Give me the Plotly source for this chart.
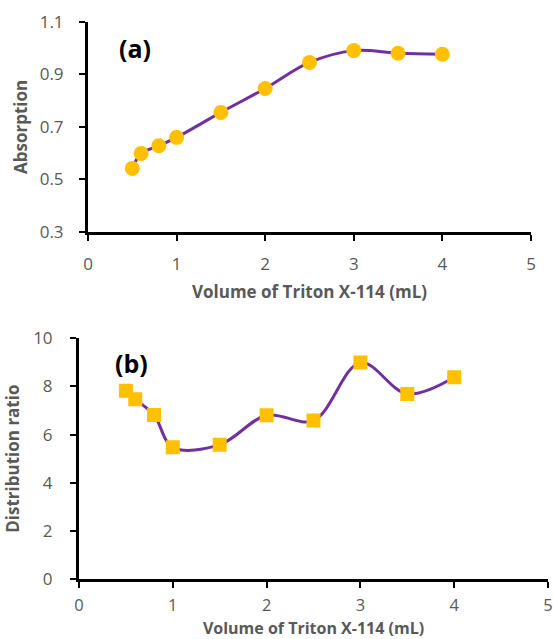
import plotly.graph_objects as go

# Volume of Triton X-114 (mL)
volume = [0.5, 0.6, 0.8, 1.0, 1.5, 2.0, 2.5, 3.0, 3.5, 4.0]
# (a) absorption signal
absorption = [0.542, 0.599, 0.628, 0.660, 0.755, 0.846, 0.945, 0.990, 0.980, 0.976]
# (b) distribution ratio
distribution = [7.82, 7.47, 6.81, 5.47, 5.58, 6.80, 6.58, 8.99, 7.69, 8.38]

x_ticks = [0, 1, 2, 3, 4, 5]
abs_ticks = [0.3, 0.5, 0.7, 0.9, 1.1]
dist_ticks = [0, 2, 4, 6, 8, 10]

W, H = 553, 639
PURPLE = "#7030A0"
GOLD = "#FFC000"
GREY = "#595959"
FONT = "Open Sans"

fig = go.Figure()

fig.add_trace(go.Scatter(
    x=volume, y=absorption, mode="lines+markers",
    line=dict(color=PURPLE, width=3, shape="spline", smoothing=1),
    marker=dict(symbol="circle", size=15, color=GOLD),
    xaxis="x", yaxis="y", showlegend=False,
))
fig.add_trace(go.Scatter(
    x=volume, y=distribution, mode="lines+markers",
    line=dict(color=PURPLE, width=3, shape="spline", smoothing=1),
    marker=dict(symbol="square", size=14, color=GOLD),
    xaxis="x2", yaxis="y2", showlegend=False,
))

def px_x(p):
    return p / W

def px_y(p):
    return 1 - p / H

line_style = dict(
    showline=True, linecolor="black", linewidth=3,
    ticks="outside", tickcolor="black", tickwidth=2, ticklen=6,
    showgrid=False, zeroline=False, automargin=False,
)
tick_font = dict(family=FONT, size=17, color=GREY)
title_font = dict(family=FONT, size=17, color=GREY)

fig.update_layout(
    width=W, height=H,
    margin=dict(l=0, r=0, t=0, b=0),
    paper_bgcolor="white", plot_bgcolor="white",
    xaxis=dict(
        domain=[px_x(88), px_x(531)], anchor="y",
        range=[0, 5], tickvals=x_ticks,
        title=dict(text="<b>Volume of Triton X-114 (mL)</b>", standoff=12, font=title_font),
        ticklabelstandoff=9, tickfont=tick_font,
        **line_style,
    ),
    yaxis=dict(
        domain=[px_y(232), px_y(21.7)], anchor="x",
        range=[0.3, 1.1], tickvals=abs_ticks, tickformat=".1f",
        title=dict(text="<b>Absorption</b>", standoff=8, font=title_font),
        ticklabelstandoff=12, tickfont=tick_font,
        **line_style,
    ),
    xaxis2=dict(
        domain=[px_x(79), px_x(548)], anchor="y2",
        range=[0, 5], tickvals=x_ticks,
        title=dict(text="<b>Volume of Triton X-114 (mL)</b>", standoff=9,
                   font=dict(family=FONT, size=16, color=GREY)),
        ticklabelstandoff=3, tickfont=dict(family=FONT, size=16.5, color=GREY),
        **line_style,
    ),
    yaxis2=dict(
        domain=[px_y(579), px_y(338.3)], anchor="x2",
        range=[0, 10], tickvals=dist_ticks,
        title=dict(text="<b>Distribution ratio</b>", standoff=10, font=title_font),
        ticklabelstandoff=14, tickfont=tick_font,
        **line_style,
    ),
    annotations=[
        dict(text="<b>(a)</b>", x=px_x(134.5), y=px_y(48), xref="paper", yref="paper",
             xanchor="center", yanchor="middle",
             showarrow=False, font=dict(family=FONT, size=25, color="black")),
        dict(text="<b>(b)</b>", x=px_x(131.5), y=px_y(363), xref="paper", yref="paper",
             xanchor="center", yanchor="middle",
             showarrow=False, font=dict(family=FONT, size=25, color="black")),
    ],
)

fig.write_html("out.html")
